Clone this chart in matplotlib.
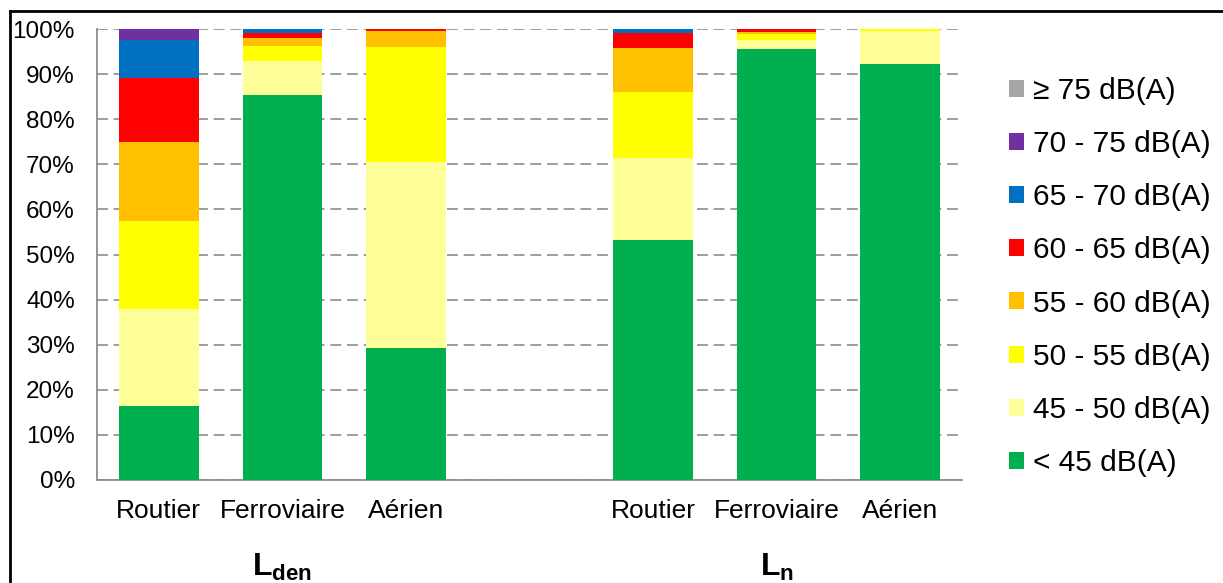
import matplotlib
matplotlib.use("Agg")
import matplotlib.pyplot as plt
from matplotlib.lines import Line2D
import numpy as np

plt.rcParams['font.family'] = ['Liberation Sans', 'DejaVu Sans']
plt.rcParams['mathtext.fontset'] = 'custom'
plt.rcParams['mathtext.bf'] = 'Liberation Sans:bold'
plt.rcParams['mathtext.rm'] = 'Liberation Sans'

categories = ['Routier', 'Ferroviaire', 'Aérien', 'Routier', 'Ferroviaire', 'Aérien']
groups = [r'$\mathbf{L_{den}}$', r'$\mathbf{L_{n}}$']

series_labels = ['< 45 dB(A)', '45 - 50 dB(A)', '50 - 55 dB(A)', '55 - 60 dB(A)',
                 '60 - 65 dB(A)', '65 - 70 dB(A)', '70 - 75 dB(A)', '≥ 75 dB(A)']
lt45 = [16.5, 85.4, 29.3, 53.2, 95.5, 92.2]
s45_50 = [21.5, 7.6, 41.2, 18.3, 2.1, 7.3]
s50_55 = [19.5, 3.3, 25.4, 14.6, 1.3, 0.5]
s55_60 = [17.5, 1.8, 3.7, 9.7, 0.5, 0.0]
s60_65 = [14.1, 1.0, 0.4, 3.3, 0.6, 0.0]
s65_70 = [8.5, 0.9, 0.0, 0.9, 0.0, 0.0]
s70_75 = [2.4, 0.0, 0.0, 0.0, 0.0, 0.0]
ge75 = [0.0, 0.0, 0.0, 0.0, 0.0, 0.0]
series = [lt45, s45_50, s50_55, s55_60, s60_65, s65_70, s70_75, ge75]
colors = ['#00B050', '#FFFF99', '#FFFF00', '#FFC000', '#FF0000', '#0070C0', '#7030A0', '#A6A6A6']

W, H = 1223, 583
fig = plt.figure(figsize=(W / 100, H / 100), dpi=100)
ax = fig.add_axes([97 / W, 1 - 480 / H, (962 - 97) / W, (480 - 29) / H])

x = np.array([0, 1, 2, 4, 5, 6])
bottom = np.zeros(len(x))
handles = []
for vals, col, lab in zip(series, colors, series_labels):
    v = np.array(vals)
    b = ax.bar(x, v, width=0.645, bottom=bottom, color=col, edgecolor='none', label=lab, zorder=3)
    handles.append(b)
    bottom += v

ax.set_xlim(-0.5, 6.5)
ax.set_ylim(0, 100)
ax.set_yticks(np.arange(0, 101, 10))
ax.set_yticklabels([f'{t}%' for t in range(0, 101, 10)], fontsize=17.5)
ax.set_xticks(x)
ax.set_xticklabels(categories, fontsize=19)
ax.tick_params(axis='y', length=0, pad=16)
ax.tick_params(axis='x', length=0, pad=14)
ax.yaxis.grid(True, linestyle=(0, (6.5, 3.5)), color='#8c8c8c', linewidth=1.2, zorder=0)
ax.set_axisbelow(True)
for s in ['top', 'right']:
    ax.spines[s].set_visible(False)
for s in ['left', 'bottom']:
    ax.spines[s].set_color('#8c8c8c')
    ax.spines[s].set_linewidth(1.3)

tr = ax.get_xaxis_transform()
for gx, g in zip([1, 5], groups):
    ax.text(gx, 1 - (567 - 29) / (480 - 29), g, transform=tr, ha='center', va='center', fontsize=23)

leg = fig.legend(handles[::-1], series_labels[::-1], loc='center left',
                 bbox_to_anchor=(1009 / W, 1 - 277 / H), frameon=False, fontsize=21.5,
                 handlelength=0.5, handleheight=0.5, handletextpad=0.3,
                 labelspacing=0.84, borderpad=0, borderaxespad=0)

# outer frame (left and top edges)
fig.add_artist(Line2D([10 / W, 10 / W], [0, 1 - 11 / H], transform=fig.transFigure, color='black', lw=2))
fig.add_artist(Line2D([10 / W, 1], [1 - 11 / H, 1 - 11 / H], transform=fig.transFigure, color='black', lw=2))

fig.savefig('out.png', dpi=100)
